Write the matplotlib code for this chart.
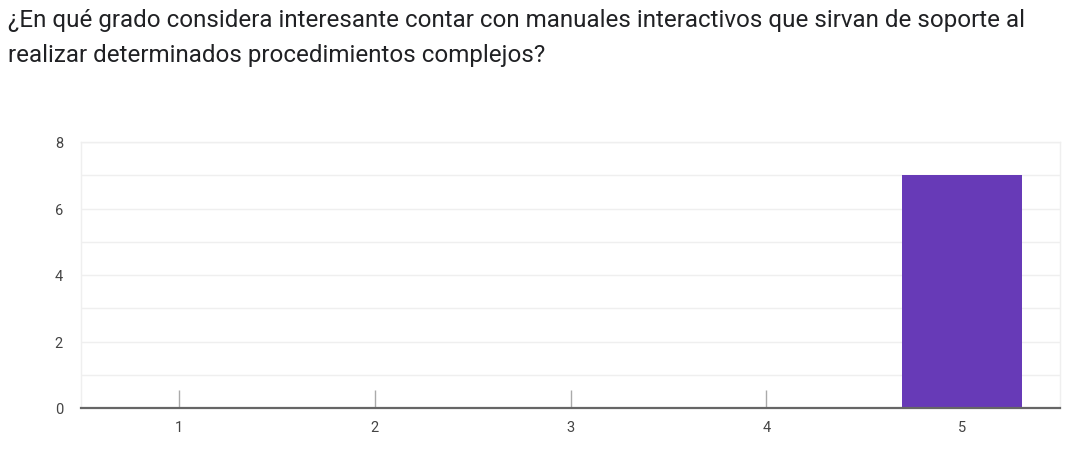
import matplotlib.pyplot as plt
from matplotlib.ticker import MultipleLocator

plt.rcParams['font.family'] = ['Roboto', 'DejaVu Sans']

title_lines = [
    '¿En qué grado considera interesante contar con manuales interactivos que sirvan de soporte al',
    'realizar determinados procedimientos complejos?',
]
categories = ['1', '2', '3', '4', '5']
counts = [0, 0, 0, 0, 7]
bar_color = '#673ab7'

fig = plt.figure(figsize=(10.76, 4.56), dpi=100)
ax = fig.add_axes([81 / 1076, 1 - 409 / 456, (1060 - 81) / 1076, (409 - 143) / 456])

x = list(range(1, len(categories) + 1))
ax.bar(x, counts, width=0.61, color=bar_color, zorder=3)

ax.set_xlim(0.5, 5.5)
ax.set_ylim(0, 8)
ax.set_xticks(x)
ax.set_xticklabels(categories)
ax.yaxis.set_major_locator(MultipleLocator(2))
ax.yaxis.set_minor_locator(MultipleLocator(1))
ax.set_axisbelow(True)

ax.grid(axis='y', which='both', color='#efefef', linewidth=1, zorder=0)
ax.tick_params(axis='x', direction='in', length=13, width=1, color='#aaaaaa',
               labelsize=10.5, labelcolor='#444444', pad=9)
ax.tick_params(axis='y', which='both', length=0, labelsize=10.5, labelcolor='#444444', pad=13)

for side in ['left', 'right', 'top']:
    ax.spines[side].set_color('#efefef')
    ax.spines[side].set_linewidth(1)
ax.spines['bottom'].set_color('#666666')
ax.spines['bottom'].set_linewidth(1.6)
ax.spines['bottom'].set_zorder(4)

fig.text(8 / 1076, 1 - 21 / 456, title_lines[0], fontsize=17.4, color='#202124', va='center', ha='left')
fig.text(8 / 1076, 1 - 56 / 456, title_lines[1], fontsize=17.4, color='#202124', va='center', ha='left')

fig.savefig('out.png', dpi=100)
